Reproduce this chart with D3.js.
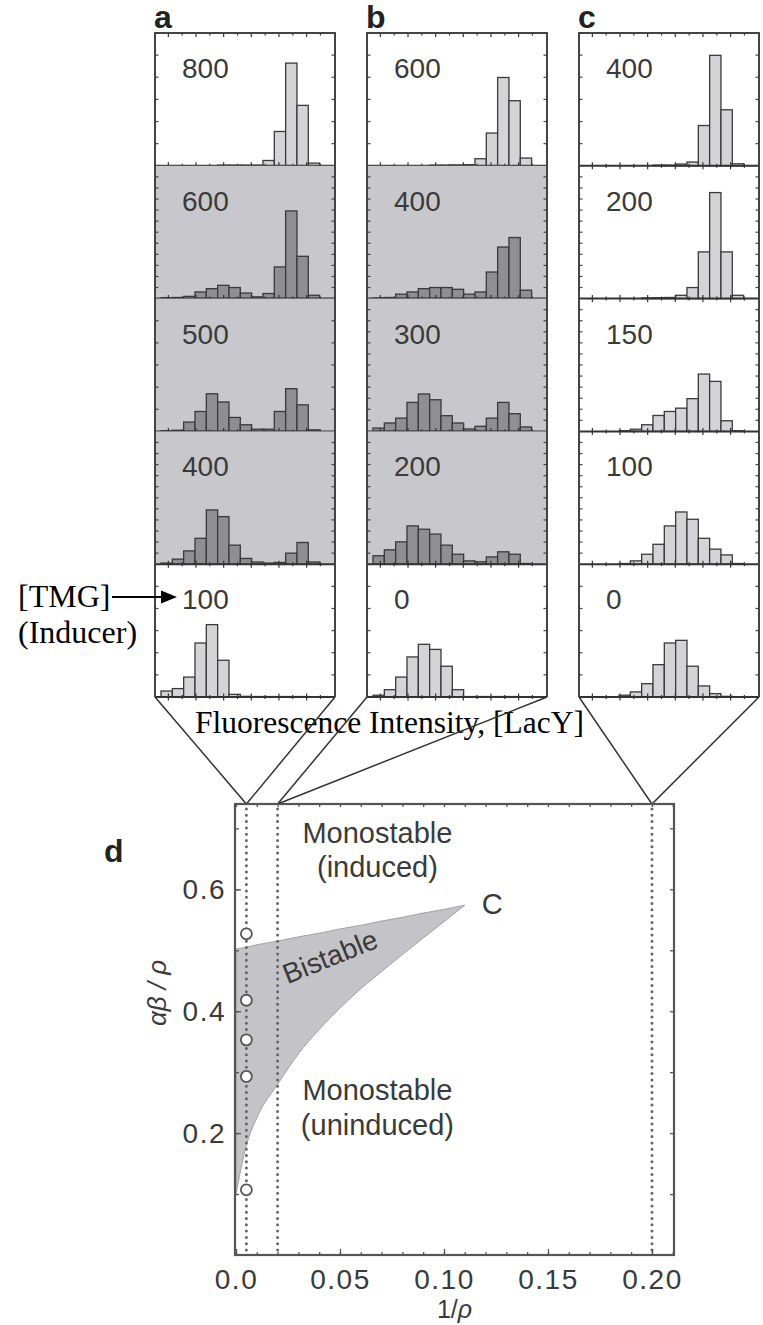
<!DOCTYPE html>
<html>
<head>
<meta charset="utf-8">
<script src="https://cdn.jsdelivr.net/npm/d3@7"></script>
<style>
  body { margin: 0; background: #fff; }
  svg { display: block; }
</style>
</head>
<body>
<svg id="fig" width="763" height="1325"></svg>
<script>
// ---------- histogram data (percentage of cells per fluorescence bin) ----------
const binCount = 14;
const panelLetters = ["a", "b", "c"];

const tmgA = ["800", "600", "500", "400", "100"];
const tmgB = ["600", "400", "300", "200", "0"];
const tmgC = ["400", "200", "150", "100", "0"];

// rows inside the bistable range are drawn on a grey background
const shadedA = [false, true, true, true, false];
const shadedB = [false, true, true, true, false];
const shadedC = [false, false, false, false, false];

// spacing of the count ticks on the side frames, per row
const yTickStepA = [10, 5, 10, 5, 10];
const yTickStepB = [10, 5, 5, 5, 10];
const yTickStepC = [10, 5, 5, 5, 10];

const countsA = [
  [0, 0, 0, 0, 0, 0.3, 0.3, 0.3, 0.3, 2.4, 15.5, 46.4, 27.3, 1.2],
  [0.4, 0.5, 1.0, 3.0, 4.5, 6.0, 5.0, 2.5, 0.8, 2.3, 14.3, 39.6, 19.1, 1.5],
  [0.3, 0.5, 4.2, 9.0, 17.0, 13.3, 6.3, 3.0, 1.0, 1.0, 9.0, 19.3, 12.0, 0.7],
  [0.5, 2.3, 6.0, 11.7, 24.5, 21.5, 8.6, 2.6, 1.0, 0.5, 0.8, 5.0, 9.8, 1.0],
  [2.7, 3.8, 9.0, 24.4, 32.7, 16.6, 1.2, 0.3, 0.2, 0.2, 0.2, 0.2, 0.2, 0]
];
const countsB = [
  [0, 0, 0, 0, 0, 0.3, 0.3, 0.4, 0.5, 3.2, 14.8, 39.9, 29.4, 3.5],
  [0.3, 0.5, 2.0, 3.0, 4.5, 5.0, 5.0, 4.2, 2.0, 3.0, 12.0, 23.3, 27.6, 3.8],
  [1.5, 3.8, 6.0, 13.1, 16.9, 14.3, 7.1, 3.8, 1.1, 2.3, 6.0, 13.1, 8.0, 2.0],
  [3.8, 6.5, 10.1, 17.3, 15.8, 13.6, 8.6, 4.5, 1.5, 1.1, 3.3, 5.6, 4.5, 0.3],
  [0.8, 3.3, 9.0, 18.1, 23.8, 21.5, 13.9, 3.3, 0.2, 0.2, 0.2, 0.2, 0.2, 0]
];
const countsC = [
  [0, 0, 0, 0, 0, 0, 0.3, 0.3, 0.8, 1.7, 18.2, 49.9, 25.3, 0.9],
  [0, 0, 0, 0, 0, 0.3, 0.4, 0.5, 1.5, 5.0, 21.1, 47.9, 21.1, 1.5],
  [0, 0, 0, 0.3, 1.0, 3.0, 7.2, 9.0, 10.5, 14.8, 25.9, 22.6, 4.8, 0.3],
  [0, 0, 0, 0.3, 1.5, 4.5, 9.0, 17.3, 23.6, 20.3, 11.7, 6.8, 4.2, 0.3],
  [0, 0, 0, 0.8, 2.3, 6.0, 14.6, 24.4, 25.6, 13.9, 5.0, 1.5, 0.3, 0]
];

// fluorescence-axis ticks, in bin units (every other one is a major tick)
const histTicks = [0.65, 1.87, 3.09, 4.31, 5.53, 6.75, 7.97, 9.19, 10.41, 11.63, 12.85, 14.07];

// ---------- phase diagram data ----------
const xTickValues = [0, 0.05, 0.10, 0.15, 0.20];
const xTickLabels = ["0.0", "0.05", "0.10", "0.15", "0.20"];
const yTickValues = [0.2, 0.4, 0.6];
const yTickLabels = ["0.2", "0.4", "0.6"];

// 1/rho of the three strains (dotted verticals), panels a, b, c
const strainInvRho = [0.005, 0.02, 0.2];
// measured alpha*beta/rho points for strain a
const pointsY = [0.527, 0.418, 0.353, 0.293, 0.107];

// bistable region boundaries, meeting at the cusp C
const bistX    = [0, 0.005, 0.01, 0.02, 0.03, 0.04, 0.05, 0.06, 0.07, 0.08, 0.09, 0.10, 0.11];
const bistLow  = [0.10, 0.18, 0.225, 0.28, 0.33, 0.37, 0.405, 0.437, 0.465, 0.493, 0.52, 0.547, 0.574];
const bistHigh = [0.502, 0.505, 0.509, 0.515, 0.522, 0.528, 0.535, 0.541, 0.548, 0.554, 0.561, 0.567, 0.574];

// ---------- drawing ----------
const svg = d3.select("#fig");
const SANS = "'Liberation Sans', Arial, Helvetica, sans-serif";
const SERIF = "'Liberation Serif', 'Times New Roman', serif";
const INK = "#3a3a3a";

const H = { lefts: [155, 367, 579], width: 180, top: 33, rowH: 132.8 };
const panelCounts = [countsA, countsB, countsC];
const panelTmg = [tmgA, tmgB, tmgC];
const panelShade = [shadedA, shadedB, shadedC];
const panelStep = [yTickStepA, yTickStepB, yTickStepC];

const yCount = d3.scaleLinear().domain([0, 60]).range([H.rowH, 0]);
const histBottom = H.top + 5 * H.rowH;

panelCounts.forEach((rows, p) => {
  const px = H.lefts[p];
  const xBin = d3.scaleLinear().domain([0, binCount]).range([px + 6, px + 6 + 11.33 * binCount]);
  const g = svg.append("g");

  rows.forEach((vals, r) => {
    const rg = g.append("g").attr("transform", `translate(0,${H.top + r * H.rowH})`);
    const shaded = panelShade[p][r];
    if (shaded) {
      rg.append("rect").attr("x", px).attr("y", 0).attr("width", H.width).attr("height", H.rowH)
        .attr("fill", "#c8c8cc");
    }
    rg.selectAll("rect.bar").data(vals.map((v, i) => ({ v, i })).filter(d => d.v > 0))
      .join("rect").attr("class", "bar")
      .attr("x", d => xBin(d.i))
      .attr("width", d => xBin(d.i + 1) - xBin(d.i))
      .attr("y", d => yCount(d.v))
      .attr("height", d => yCount(0) - yCount(d.v))
      .attr("fill", shaded ? "#8e8e93" : "#d4d4d8")
      .attr("stroke", "#3a3a3a").attr("stroke-width", 1.3);

    // count ticks on both side frames
    const step = panelStep[p][r];
    const tv = d3.range(step, 60, step).filter(v => yCount(v) > 2);
    rg.selectAll("line.yl").data(tv).join("line")
      .attr("x1", px).attr("x2", px + 3.5).attr("y1", d => yCount(d)).attr("y2", d => yCount(d))
      .attr("stroke", "#444").attr("stroke-width", 1.2);
    rg.selectAll("line.yr").data(tv).join("line")
      .attr("x1", px + H.width - 3.5).attr("x2", px + H.width).attr("y1", d => yCount(d)).attr("y2", d => yCount(d))
      .attr("stroke", "#444").attr("stroke-width", 1.2);

    // baseline with fluorescence ticks
    rg.append("line").attr("x1", px).attr("x2", px + H.width)
      .attr("y1", yCount(0)).attr("y2", yCount(0))
      .attr("stroke", "#333").attr("stroke-width", 2);
    rg.selectAll("line.xt").data(histTicks).join("line")
      .attr("x1", d => xBin(d)).attr("x2", d => xBin(d))
      .attr("y1", (d, i) => yCount(0) - (i % 2 ? 2 : 3.5))
      .attr("y2", (d, i) => yCount(0) + (i % 2 ? 2 : 3.5))
      .attr("stroke", "#333").attr("stroke-width", 1.2);

    // inducer concentration label
    rg.append("text").attr("x", px + 27).attr("y", 45)
      .attr("font-family", SANS).attr("font-size", 28).attr("fill", INK)
      .text(panelTmg[p][r]);
  });

  // top frame ticks
  g.selectAll("line.tt").data(histTicks).join("line")
    .attr("x1", d => xBin(d)).attr("x2", d => xBin(d))
    .attr("y1", H.top).attr("y2", (d, i) => H.top + (i % 2 ? 2.5 : 4))
    .attr("stroke", "#333").attr("stroke-width", 1.2);

  // frame (left, right, top)
  g.append("path")
    .attr("d", `M${px},${histBottom}V${H.top}H${px + H.width}V${histBottom}`)
    .attr("fill", "none").attr("stroke", "#444").attr("stroke-width", 2);

  // panel letter
  g.append("text").attr("x", px - 1).attr("y", 28)
    .attr("font-family", SANS).attr("font-weight", "bold").attr("font-size", 32).attr("fill", "#222")
    .text(panelLetters[p]);
});

// axis caption under the histograms
svg.append("text").attr("x", 195).attr("y", 733)
  .attr("font-family", SERIF).attr("font-size", 31.5).attr("fill", "#000")
  .text("Fluorescence Intensity, [LacY]");

// inducer annotation with arrow
svg.append("text").attr("x", 18).attr("y", 607)
  .attr("font-family", SERIF).attr("font-size", 32).attr("fill", "#000").text("[TMG]");
svg.append("text").attr("x", 18).attr("y", 643)
  .attr("font-family", SERIF).attr("font-size", 32).attr("fill", "#000").text("(Inducer)");
svg.append("line").attr("x1", 112).attr("x2", 164).attr("y1", 597).attr("y2", 597)
  .attr("stroke", "#000").attr("stroke-width", 2);
svg.append("path").attr("d", "M161,590.5L177,597L161,603.5Z").attr("fill", "#000");

// ---------- panel d ----------
const D = { left: 235, right: 674, top: 804, bottom: 1255 };
const xD = d3.scaleLinear().domain([0, 0.2106]).range([236, D.right]);
const yD = d3.scaleLinear().domain([0, 0.74]).range([D.bottom, D.top]);

// funnels linking each histogram column to its strain line
H.lefts.forEach((px, p) => {
  const tx = xD(strainInvRho[p]);
  svg.append("path")
    .attr("d", `M${px},${histBottom}L${tx},${D.top}L${px + H.width},${histBottom}`)
    .attr("fill", "none").attr("stroke", "#333").attr("stroke-width", 1.5);
});

// bistable region
const area = d3.area().x((d, i) => xD(bistX[i])).y0((d, i) => yD(bistLow[i])).y1((d, i) => yD(bistHigh[i]))
  .curve(d3.curveMonotoneX);
svg.append("path").attr("d", area(bistX))
  .attr("fill", "#c4c4c8").attr("stroke", "#a2a2a6").attr("stroke-width", 1);

// strain lines
svg.selectAll("line.strain").data(strainInvRho).join("line")
  .attr("x1", d => xD(d)).attr("x2", d => xD(d)).attr("y1", D.top + 5).attr("y2", D.bottom)
  .attr("stroke", "#666").attr("stroke-width", 3)
  .attr("stroke-dasharray", "0,6.3").attr("stroke-linecap", "round");

// axes (ticks point inward)
function styleAxis(sel) {
  sel.select(".domain").remove();
  sel.selectAll(".tick line").attr("stroke", "#555").attr("stroke-width", 1.3);
  sel.selectAll(".tick text").attr("font-family", SANS).attr("font-size", 28)
    .attr("fill", INK).attr("letter-spacing", 1.5);
}
const xMinor = d3.range(0, 0.2101, 0.01);
const yMinor = d3.range(0.1, 0.7001, 0.1);

svg.append("g").attr("transform", `translate(0,${D.bottom})`)
  .call(d3.axisBottom(xD).tickValues(xMinor).tickSize(-3).tickFormat("")).call(styleAxis);
svg.append("g").attr("transform", `translate(0,${D.bottom})`)
  .call(d3.axisBottom(xD).tickValues(xTickValues).tickSize(-6).tickPadding(14)
    .tickFormat((d, i) => xTickLabels[i])).call(styleAxis);
svg.append("g").attr("transform", `translate(0,${D.top})`)
  .call(d3.axisTop(xD).tickValues(xMinor).tickSize(-3).tickFormat("")).call(styleAxis);
svg.append("g").attr("transform", `translate(${D.left},0)`)
  .call(d3.axisLeft(yD).tickValues(yMinor).tickSize(-4).tickFormat("")).call(styleAxis);
svg.append("g").attr("transform", `translate(${D.left},0)`)
  .call(d3.axisLeft(yD).tickValues(yTickValues).tickSize(-6).tickPadding(9)
    .tickFormat((d, i) => yTickLabels[i])).call(styleAxis);
svg.append("g").attr("transform", `translate(${D.right},0)`)
  .call(d3.axisRight(yD).tickValues(yMinor).tickSize(-4).tickFormat("")).call(styleAxis);

// frame
svg.append("rect").attr("x", D.left).attr("y", D.top)
  .attr("width", D.right - D.left).attr("height", D.bottom - D.top)
  .attr("fill", "none").attr("stroke", "#555").attr("stroke-width", 2.2);

// measured points
svg.selectAll("circle.pt").data(pointsY).join("circle")
  .attr("cx", xD(strainInvRho[0])).attr("cy", d => yD(d)).attr("r", 5.5)
  .attr("fill", "#fff").attr("stroke", "#555").attr("stroke-width", 1.8);

// region labels
const label = (x, y, txt, opts = {}) => svg.append("text")
  .attr("x", x).attr("y", y).attr("text-anchor", opts.anchor || "middle")
  .attr("font-family", SANS).attr("font-size", opts.size || 29).attr("fill", INK)
  .attr("transform", opts.rotate ? `rotate(${opts.rotate},${x},${y})` : null)
  .text(txt);

label(xD(0.068), yD(0.676), "Monostable");
label(xD(0.068), yD(0.621), "(induced)");
label(xD(0.068), yD(0.254), "Monostable");
label(xD(0.068), yD(0.197), "(uninduced)");
label(xD(0.047), yD(0.475), "Bistable", { rotate: -22, size: 28 });
label(xD(0.11) + 17, yD(0.574) + 9, "C", { anchor: "start", size: 29 });

// panel letter d
svg.append("text").attr("x", 104).attr("y", 862)
  .attr("font-family", SANS).attr("font-weight", "bold").attr("font-size", 32).attr("fill", "#222")
  .text("d");

// axis titles
svg.append("text").attr("x", (D.left + D.right) / 2).attr("y", 1318).attr("text-anchor", "middle")
  .attr("font-family", SANS).attr("font-size", 25).attr("fill", INK)
  .html('1/<tspan font-style="italic">ρ</tspan>');
svg.append("text").attr("transform", `translate(166,${yD(0.43)}) rotate(-90)`).attr("text-anchor", "middle")
  .attr("font-family", SANS).attr("font-size", 26).attr("fill", INK).attr("font-style", "italic")
  .text("αβ / ρ");
</script>
</body>
</html>
